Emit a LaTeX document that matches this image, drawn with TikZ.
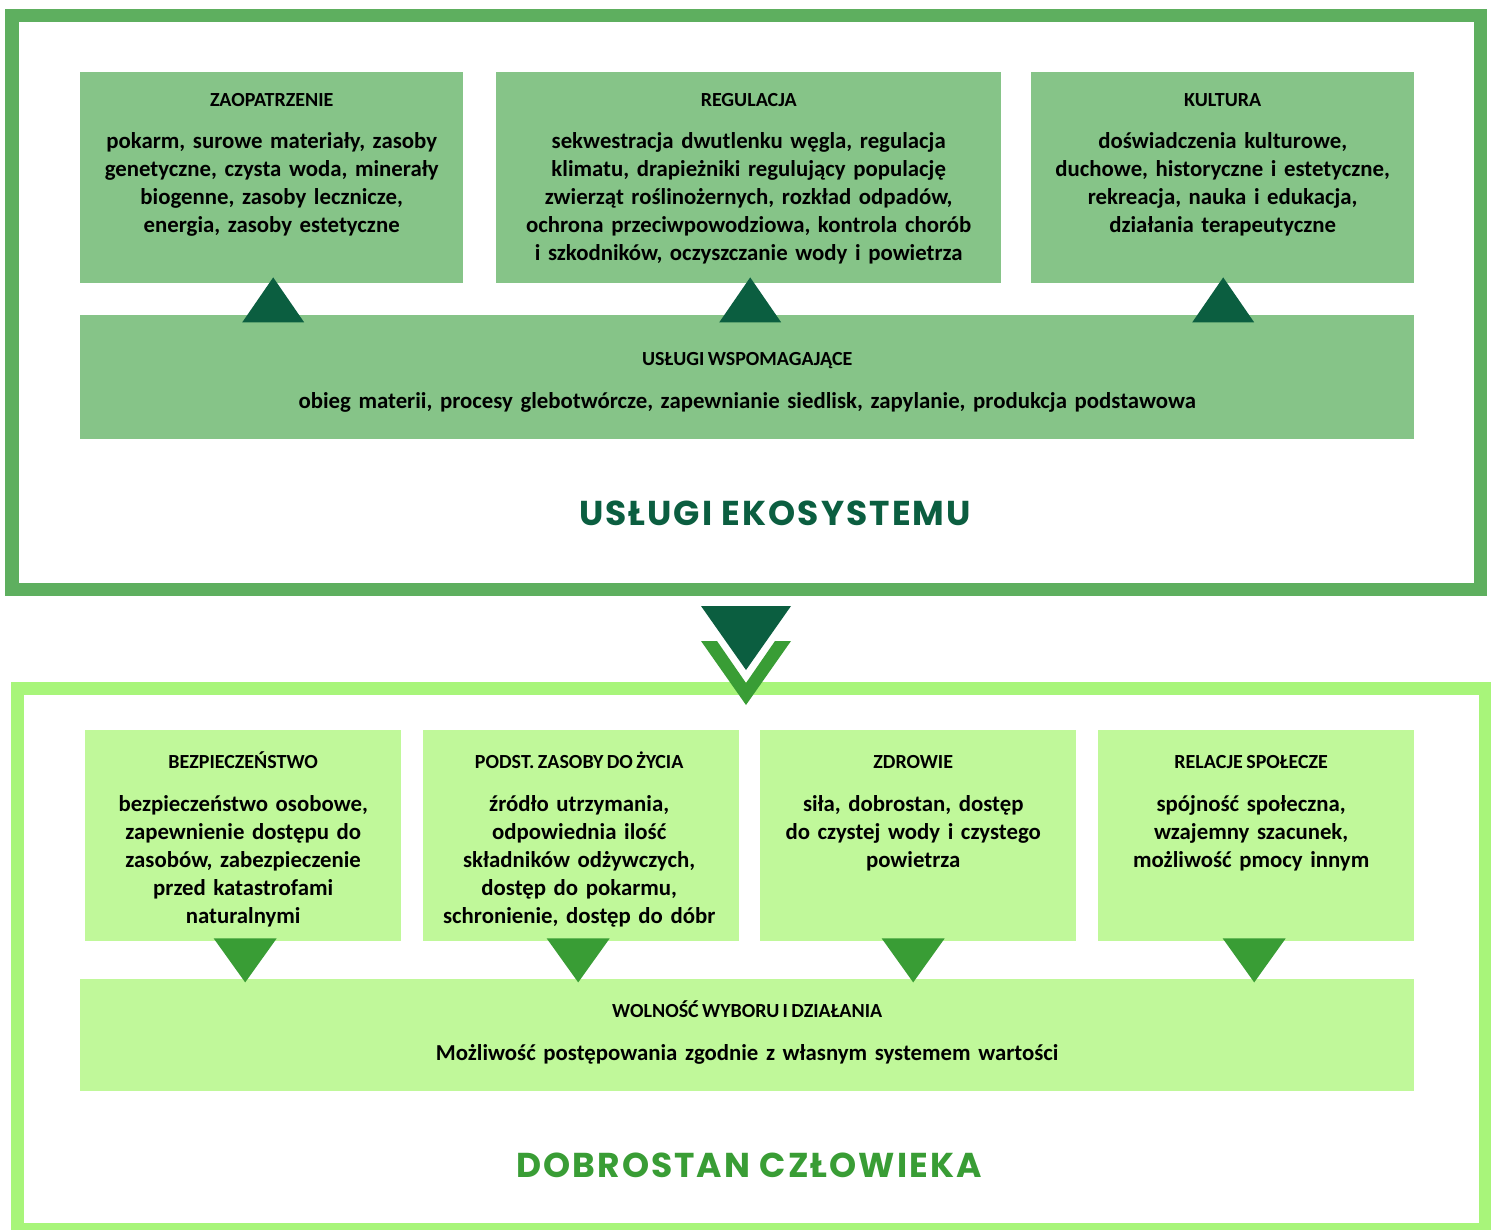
\documentclass[tikz,border=0pt]{standalone}
\usepackage{fontspec}
\setmainfont{Carlito}[WordSpace=0.75]
\newfontfamily\titlefont[LetterSpace=6]{Poppins}
\usetikzlibrary{calc}

\definecolor{frameA}{HTML}{5EAF5F}
\definecolor{boxA}{HTML}{86C488}
\definecolor{darkgreen}{HTML}{0B5E40}
\definecolor{frameB}{HTML}{A8F57A}
\definecolor{boxB}{HTML}{C0F89A}
\definecolor{midgreen}{HTML}{399D35}

\tikzset{
  boxa/.style={fill=boxA, draw=none, rectangle, inner sep=0pt, anchor=north west},
  boxb/.style={fill=boxB, draw=none, rectangle, inner sep=0pt, anchor=north west},
  head/.style={font=\bfseries\fontsize{20}{24}\selectfont, anchor=base, inner sep=0pt},
  body/.style={font=\bfseries\fontsize{22.8}{28}\selectfont, anchor=base, inner sep=0pt,
               align=center, text width=#1},
  body/.default=480pt,
  bigtitle/.style={font=\titlefont\bfseries\fontsize{34.5}{40}\selectfont, anchor=base, inner sep=0pt},
}

\begin{document}
\begin{tikzpicture}[x=1pt, y=-1pt]
\useasboundingbox (0,0) rectangle (1491,1230);

% outer frames
\draw[frameA, line width=13.5pt] (11.75,15.75) rectangle (1480.5,589.5);
\draw[frameB, line width=13pt] (17.5,688) rectangle (1485.5,1229.5);

% ---- ecosystem services ----
\node[boxa, minimum width=383pt, minimum height=211pt] (zao) at (80,72) {};
\node[boxa, minimum width=505pt, minimum height=211pt] (reg) at (496,72) {};
\node[boxa, minimum width=383pt, minimum height=211pt] (kul) at (1031,72) {};
\node[boxa, minimum width=1334pt, minimum height=124pt] (wsp) at (80,315) {};

\node[head] (zaoH) at ($(zao.north)+(0,35)$) {ZAOPATRZENIE};
\node[body=380pt] (zaoT) at ($(zao.north)+(0,77)$) {pokarm, surowe materiały, zasoby\\genetyczne, czysta woda, minerały\\biogenne, zasoby lecznicze,\\energia, zasoby estetyczne};

\node[head] (regH) at ($(reg.north)+(0,35)$) {REGULACJA};
\node[body=500pt] (regT) at ($(reg.north)+(0,77)$) {sekwestracja dwutlenku węgla, regulacja\\klimatu, drapieżniki regulujący populację\\zwierząt roślinożernych, rozkład odpadów,\\ochrona przeciwpowodziowa, kontrola chorób\\i szkodników, oczyszczanie wody i powietrza};

\node[head] (kulH) at ($(kul.north)+(0,35)$) {KULTURA};
\node[body=380pt] (kulT) at ($(kul.north)+(0,77)$) {doświadczenia kulturowe,\\duchowe, historyczne i estetyczne,\\rekreacja, nauka i edukacja,\\działania terapeutyczne};

\node[head] (wspH) at ($(wsp.north)+(0,51)$) {USŁUGI WSPOMAGAJĄCE};
\node[body=1300pt] (wspT) at ($(wsp.north)+(0,94)$) {obieg materii, procesy glebotwórcze, zapewnianie siedlisk, zapylanie, produkcja podstawowa};

% upward pointers from supporting services
\foreach \b/\dx in {zao/1.5, reg/1.5, kul/0.5}
  \fill[darkgreen] ($(\b.south)+(\dx,-6)$) -- ++(31,45) -- ++(-62,0) -- cycle;

\node[bigtitle, text=darkgreen] (titleA) at (775,525) {USŁUGI EKOSYSTEMU};

% ---- link between the two frames ----
\coordinate (link) at (746,606);
\fill[darkgreen] (link) ++(-45,0) -- ++(90,0) -- ++(-45,64) -- cycle;
\fill[midgreen] (link) ++(-45,35) -- ++(16,0) -- ++(29,42) -- ++(29,-42) -- ++(16,0) -- ++(-45,64) -- cycle;

% ---- human well-being ----
\node[boxb, minimum width=316pt, minimum height=211pt] (bez) at (85,730) {};
\node[boxb, minimum width=316pt, minimum height=211pt] (pod) at (423,730) {};
\node[boxb, minimum width=316pt, minimum height=211pt] (zdr) at (760,730) {};
\node[boxb, minimum width=316pt, minimum height=211pt] (rel) at (1098,730) {};
\node[boxb, minimum width=1334pt, minimum height=112pt] (wol) at (80,979) {};

\node[head] (bezH) at ($(bez.north)+(0,38)$) {BEZPIECZEŃSTWO};
\node[body=316pt] (bezT) at ($(bez.north)+(0,81)$) {bezpieczeństwo osobowe,\\zapewnienie dostępu do\\zasobów, zabezpieczenie\\przed katastrofami\\naturalnymi};

\node[head] (podH) at ($(pod.north)+(-2,38)$) {PODST. ZASOBY DO ŻYCIA};
\node[body=316pt] (podT) at ($(pod.north)+(-2,81)$) {źródło utrzymania,\\odpowiednia ilość\\składników odżywczych,\\dostęp do pokarmu,\\schronienie, dostęp do dóbr};

\node[head] (zdrH) at ($(zdr.north)+(-5,38)$) {ZDROWIE};
\node[body=316pt] (zdrT) at ($(zdr.north)+(-5,81)$) {siła, dobrostan, dostęp\\do czystej wody i czystego\\powietrza};

\node[head] (relH) at ($(rel.north)+(-5,38)$) {RELACJE SPOŁECZE};
\node[body=316pt] (relT) at ($(rel.north)+(-5,81)$) {spójność społeczna,\\wzajemny szacunek,\\możliwość pmocy innym};

\node[head] (wolH) at ($(wol.north)+(0,38)$) {WOLNOŚĆ WYBORU I DZIAŁANIA};
\node[body=1300pt] (wolT) at ($(wol.north)+(0,81)$) {Możliwość postępowania zgodnie z własnym systemem wartości};

% downward pointers into freedom of choice
\foreach \b/\dx in {bez/2, pod/-3, zdr/-5, rel/-2}
  \fill[midgreen] ($(\b.south)+(\dx-31.5,-3)$) -- ++(63,0) -- ++(-31.5,44) -- cycle;

\node[bigtitle, text=midgreen] (titleB) at (749,1177) {DOBROSTAN CZŁOWIEKA};
\end{tikzpicture}
\end{document}
